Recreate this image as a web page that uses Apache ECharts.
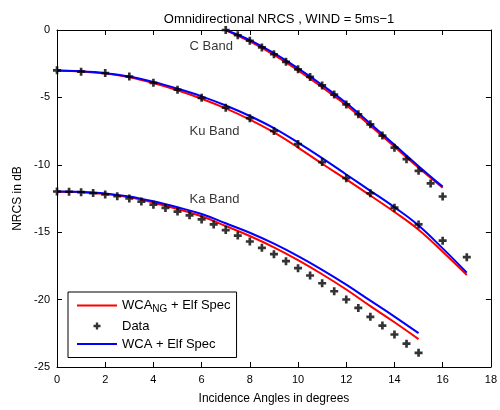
<!DOCTYPE html>
<html>
<head>
<meta charset="utf-8">
<script src="https://cdn.jsdelivr.net/npm/echarts@6/dist/echarts.min.js"></script>
<style>
  html, body { margin: 0; padding: 0; background: #fff; }
  #main { width: 500px; height: 410px; }
</style>
</head>
<body>
<div id="main"></div>
<script type="text/javascript">
// measured data (crosses)
var kaAngles = [0, 0.5, 1, 1.5, 2, 2.5, 3, 3.5, 4, 4.5, 5, 5.5, 6, 6.5, 7, 7.5, 8, 8.5, 9, 9.5, 10, 10.5, 11, 11.5, 12, 12.5, 13, 13.5, 14, 14.5, 15];
var kaData = [-11.98, -12.0, -12.03, -12.1, -12.2, -12.33, -12.5, -12.73, -12.96, -13.2, -13.47, -13.75, -14.05, -14.42, -14.84, -15.25, -15.69, -16.16, -16.63, -17.15, -17.67, -18.21, -18.79, -19.38, -19.99, -20.62, -21.28, -21.93, -22.59, -23.27, -23.95];
var kuAngles = [0, 1, 2, 3, 4, 5, 6, 7, 8, 9, 10, 11, 12, 13, 14, 15, 16, 17];
var kuData = [-2.99, -3.09, -3.19, -3.45, -3.92, -4.43, -5.03, -5.76, -6.54, -7.49, -8.46, -9.8, -10.99, -12.11, -13.18, -14.42, -15.63, -16.85];
var cAngles = [7, 7.5, 8, 8.5, 9, 9.5, 10, 10.5, 11, 11.5, 12, 12.5, 13, 13.5, 14, 14.5, 15, 15.5, 16];
var cData = [0, -0.39, -0.8, -1.29, -1.8, -2.36, -2.92, -3.48, -4.11, -4.79, -5.52, -6.25, -7.0, -7.83, -8.73, -9.58, -10.45, -11.38, -12.35];

// model curves
var kaCurveAngles = [0, 1, 2, 3, 4, 5, 6, 7, 8, 9, 10, 11, 12, 13, 14, 15];
var kaWcaNg = [-12.0, -12.03, -12.16, -12.41, -12.81, -13.28, -13.82, -14.54, -15.28, -16.12, -17.07, -18.12, -19.25, -20.48, -21.68, -22.93];
var kaWca = [-11.98, -12.01, -12.12, -12.35, -12.71, -13.15, -13.65, -14.34, -15.04, -15.85, -16.77, -17.79, -18.89, -20.08, -21.26, -22.49];
var kuCurveAngles = [0, 1, 2, 3, 4, 5, 6, 7, 8, 9, 10, 11, 12, 13, 14, 15, 16, 17];
var kuWcaNg = [-3.0, -3.07, -3.23, -3.5, -3.93, -4.47, -5.1, -5.82, -6.65, -7.6, -8.72, -9.92, -11.08, -12.28, -13.5, -14.82, -16.45, -18.17];
var kuWca = [-3.0, -3.06, -3.2, -3.45, -3.85, -4.35, -4.92, -5.6, -6.38, -7.28, -8.35, -9.5, -10.72, -11.93, -13.15, -14.5, -16.2, -18.0];
var cCurveAngles = [7, 8, 9, 10, 11, 12, 13, 14, 15, 16];
var cWcaNg = [-0.02, -0.85, -1.85, -3.0, -4.25, -5.58, -7.1, -8.66, -10.22, -11.7];
var cWca = [0, -0.75, -1.72, -2.85, -4.08, -5.42, -6.95, -8.52, -10.1, -11.62];

// band annotations (data coords)
var bandLabels = ['C Band', 'Ku Band', 'Ka Band'];
var bandLabelX = [5.5, 5.5, 5.5];
var bandLabelY = [-1.2, -7.5, -12.55];

var NG = 'WCA_NG + Elf Spec';
var WCA = 'WCA + Elf Spec';
var FONT = '"Liberation Sans", Arial, sans-serif';
var plus = 'path://M2,0H4V2H6V4H4V6H2V4H0V2H2Z';
var lineIcon = 'path://M0,0M0,7M0,2.5H40V4.5H0Z';

function pairs(xs, ys) {
	return xs.map(function (x, i) { return [x, ys[i]]; });
}

function curve(name, color, xs, ys) {
	return {
		name: name,
		type: 'line',
		data: pairs(xs, ys),
		smooth: 0.4,
		symbol: 'none',
		lineStyle: { color: color, width: 2 },
		itemStyle: { color: color },
		z: name === WCA ? 4 : 3
	};
}

function dots(xs, ys) {
	return {
		name: 'Data',
		type: 'scatter',
		data: pairs(xs, ys),
		symbol: plus,
		symbolSize: 8,
		itemStyle: { color: '#000' },
		z: 5
	};
}

var series = [
	curve(NG, '#ff0000', cCurveAngles, cWcaNg),
	curve(NG, '#ff0000', kuCurveAngles, kuWcaNg),
	curve(NG, '#ff0000', kaCurveAngles, kaWcaNg),
	dots(cAngles, cData),
	dots(kuAngles, kuData),
	dots(kaAngles, kaData),
	curve(WCA, '#0000ff', cCurveAngles, cWca),
	curve(WCA, '#0000ff', kuCurveAngles, kuWca),
	curve(WCA, '#0000ff', kaCurveAngles, kaWca),
	{
		name: 'labels',
		type: 'scatter',
		symbolSize: 0,
		silent: true,
		data: bandLabels.map(function (t, i) { return [bandLabelX[i], bandLabelY[i], t]; }),
		label: {
			show: true,
			position: 'right',
			distance: 0,
			color: '#000',
			fontFamily: FONT,
			fontSize: 13,
			formatter: function (p) { return p.value[2]; }
		}
	}
];

var axisCommon = {
	axisLine: { show: true, onZero: false, lineStyle: { color: '#000', width: 1 } },
	axisTick: { show: true, inside: true, length: 5, lineStyle: { color: '#000' } },
	splitLine: { show: false }
};

var option = {
	animation: false,
	backgroundColor: '#fff',
	title: {
		text: 'Omnidirectional NRCS , WIND = 5ms\u22121',
		left: 274,
		top: 8,
		textAlign: 'center',
		textStyle: { fontFamily: FONT, fontSize: 13, fontWeight: 'normal', color: '#000' }
	},
	grid: { left: 57, right: 9, top: 30, bottom: 37 },
	legend: {
		orient: 'vertical',
		left: 68,
		top: 292,
		data: [
			{ name: NG, icon: lineIcon, itemStyle: { color: '#ff0000' } },
			{ name: 'Data', icon: plus, itemStyle: { color: '#000' } },
			{ name: WCA, icon: lineIcon, itemStyle: { color: '#0000ff' } }
		],
		backgroundColor: '#fff',
		borderColor: '#000',
		borderWidth: 1,
		borderRadius: 0,
		padding: [7, 6, 7, 9],
		itemGap: 5,
		itemWidth: 40,
		itemHeight: 7,
		textStyle: {
			fontFamily: FONT,
			fontSize: 13,
			color: '#000',
			rich: {
				sub: { fontFamily: FONT, fontSize: 10, verticalAlign: 'bottom', padding: [8, 0, 0, 0] }
			}
		},
		formatter: function (name) {
			return name === NG ? 'WCA{sub|NG} + Elf Spec' : name;
		}
	},
	xAxis: [
		Object.assign({
			type: 'value',
			min: 0,
			max: 18,
			interval: 2,
			name: 'Incidence Angles in degrees',
			nameLocation: 'middle',
			nameGap: 26,
			nameTextStyle: { fontFamily: FONT, fontSize: 12, color: '#000' },
			axisLabel: { fontFamily: FONT, fontSize: 11, color: '#000', margin: 7 }
		}, axisCommon),
		Object.assign({
			type: 'value', position: 'top', min: 0, max: 18, interval: 2,
			axisLabel: { show: false }
		}, axisCommon)
	],
	yAxis: [
		Object.assign({
			type: 'value',
			min: -25,
			max: 0,
			interval: 5,
			name: 'NRCS in dB',
			nameLocation: 'middle',
			nameGap: 32,
			nameTextStyle: { fontFamily: FONT, fontSize: 12, color: '#000' },
			axisLabel: { fontFamily: FONT, fontSize: 11, color: '#000', margin: 7 }
		}, axisCommon),
		Object.assign({
			type: 'value', position: 'right', min: -25, max: 0, interval: 5,
			axisLabel: { show: false }
		}, axisCommon)
	],
	series: series
};

var myChart = echarts.init(document.getElementById('main'), null, { renderer: 'canvas' });
myChart.setOption(option);
</script>
</body>
</html>
